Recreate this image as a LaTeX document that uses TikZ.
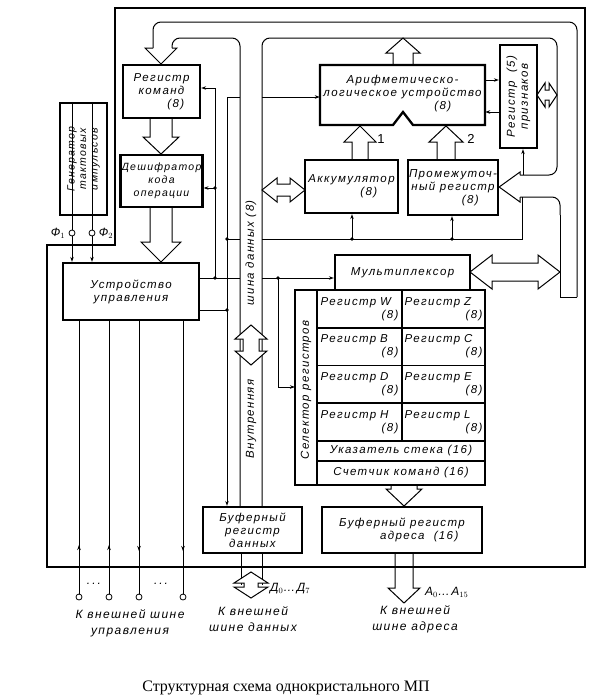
\documentclass[tikz,border=0pt]{standalone}
\usepackage{fontspec}
\setmainfont{Liberation Sans}
\newfontfamily\lab[LetterSpace=12]{Liberation Sans}
\newfontfamily\capf{Liberation Serif}
\usetikzlibrary{positioning,calc,arrows.meta}

\tikzset{
  blk/.style={draw, line width=2.3pt, inner sep=1pt, align=center, font=\lab\itshape\fontsize{11.5}{13}\selectfont},
  txt/.style={inner sep=0pt, align=center, font=\lab\itshape\fontsize{11.5}{13}\selectfont},
  cell/.style={txt, text width=78pt, align=left},
  lbl/.style={inner sep=0pt, align=center, font=\lab\itshape\fontsize{12}{16}\selectfont},
  num/.style={inner sep=0pt, font=\lab\fontsize{13}{13}\selectfont},
  sg/.style={line width=0.8pt},
  sga/.style={line width=0.8pt, -{Stealth[length=5pt,width=3.5pt]}},
  bus/.style={line width=1pt, rounded corners=8pt},
  hol/.style={line width=1pt},
  dbl/.style={line width=1pt, fill=white},
}
% hollow bus arrows: x, from, base, tip, shaft half, head half
\newcommand{\vbus}[6]{\draw[hol] ({#1-#5},#2) -- ({#1-#5},#3) -- ({#1-#6},#3) -- (#1,#4) -- ({#1+#6},#3) -- ({#1+#5},#3) -- ({#1+#5},#2);}
% double headed: pos, tip a, tip b, head length, shaft half, head half
\newcommand{\vdbl}[6]{\draw[dbl] (#1,#2) -- ({#1+#6},{#2+#4}) -- ({#1+#5},{#2+#4}) -- ({#1+#5},{#3-#4}) -- ({#1+#6},{#3-#4}) -- (#1,#3) -- ({#1-#6},{#3-#4}) -- ({#1-#5},{#3-#4}) -- ({#1-#5},{#2+#4}) -- ({#1-#6},{#2+#4}) -- cycle;}
\newcommand{\hdbl}[6]{\draw[dbl] (#2,#1) -- ({#2+#4},{#1-#6}) -- ({#2+#4},{#1-#5}) -- ({#3-#4},{#1-#5}) -- ({#3-#4},{#1-#6}) -- (#3,#1) -- ({#3-#4},{#1+#6}) -- ({#3-#4},{#1+#5}) -- ({#2+#4},{#1+#5}) -- ({#2+#4},{#1+#6}) -- cycle;}

\begin{document}
\begin{tikzpicture}[x=1pt,y=-1pt]
\useasboundingbox (0,0) rectangle (595,699);

% chip frame
\draw[line width=1.1pt] (47,245) -- (115,245) -- (115,8) -- (585,8) -- (585,567) -- (47,567) -- cycle;

% internal data bus
\draw[bus] (153,48) -- (153,22) -- (577,22) -- (577,297);
\draw[line width=1pt] (577,297) -- (560,297) -- (560,215);
\draw[bus] (560,215) -- (560,197) -- (520,197);
\draw[bus] (172,48) -- (172,38) -- (240,38) -- (240,507);
\draw[bus] (262,507) -- (262,38) -- (557,38) -- (557,175) -- (520,175);
\draw[hol] (153,48) -- (145,48) -- (161,64) -- (177,48) -- (172,48);
\vdbl{251}{325}{365}{14}{8}{16}
\node[txt, rotate=90] (bus1) at (251,419) {Внутренняя};
\node[txt, rotate=90] (bus2) at (251,253) {шина данных (8)};

% hollow arrows
\vbus{161}{118}{137}{154}{11}{18}
\vbus{161}{207}{242}{262}{11}{20}
\vbus{403}{65}{53}{38}{10}{17}
\vbus{360}{160}{142}{126}{8}{16}
\vbus{446}{160}{142}{126}{9}{17}
\vbus{404}{485}{489}{506}{13}{18}
\vbus{404}{553}{588}{603}{9}{16}
\node[num] (n1) at (381,139) {1};
\node[num] (n2) at (471,139) {2};

% blocks
\node[blk, rotate=90, minimum width=112, minimum height=47, font=\lab\itshape\fontsize{10.5}{11.5}\selectfont] (gen) at (83.5,159) {Генератор\\тактовых\\импульсов};
\node[blk, minimum width=77, minimum height=53] (rk) at (161.5,91.5) {Регистр\\команд\\\hspace*{2.5em}(8)};
\node[blk, minimum width=77, minimum height=52, font=\lab\itshape\fontsize{10.5}{13}\selectfont] (dsh) at (161.5,181) {Дешифратор\\кода\\операции};
\node[blk, minimum width=136, minimum height=57] (uu) at (131,291.5) {Устройство\\управления};
\draw[line width=2.3pt] (320,65) -- (485,65) -- (485,125) -- (413,125) -- (403,112) -- (393,125) -- (320,125) -- cycle;
\node[txt, minimum width=165, minimum height=60] (alu) at (402.5,94) {Арифметическо-\\логическое устройство\\\hspace*{7em}(8)};
\node[blk, rotate=90, minimum width=103, minimum height=37] (flg) at (518.5,96.5) {Регистр\ \ (5)\\признаков};
\node[blk, minimum width=93, minimum height=53] (acc) at (351.5,186.5) {Аккумулятор\\\hspace*{3em}(8)};
\node[blk, minimum width=90, minimum height=55] (prm) at (453,187.5) {Промежуточ-\\ный регистр\\\hspace*{3em}(8)};
\node[blk, minimum width=135, minimum height=35] (mux) at (402.5,272.5) {Мультиплексор};

% register block
\draw[line width=2.4pt] (295,290) rectangle (485,485);
\draw[line width=1.8pt] (317,290) -- (317,485) (402,290) -- (402,441);
\foreach \y in {327.75,365.5,403.25,441,461} \draw[line width=1.8pt] (317,\y) -- (485,\y);
\foreach \a/\b [count=\i] in {W/Z,B/C,D/E,H/L}{
  \node[cell] (r\a) at (359.5,{290+(\i-0.5)*37.75}) {Регистр \a\\\hspace*{\fill}(8)};
  \node[cell] (r\b) at (443.5,{290+(\i-0.5)*37.75}) {Регистр \b\\\hspace*{\fill}(8)};
}
\node[txt] (sp) at (401,451) {Указатель стека (16)};
\node[txt] (pc) at (401,473) {Счетчик команд (16)};
\node[txt, rotate=90] (sel) at (306,390) {Селектор регистров};

\node[blk, minimum width=99, minimum height=46] (bd) at (252.5,530) {Буферный\\регистр\\данных};
\node[blk, minimum width=160, minimum height=46] (ba) at (402,530) {Буферный регистр\\\hspace*{3em}адреса\ \ (16)};

% bus arrows to registers
\hdbl{190}{262}{305}{15}{6}{12}
\hdbl{272}{470}{560}{22}{9}{17}
\hdbl{95}{537}{557}{8}{5}{12}
\draw[dbl] (520,175) -- (520,172) -- (prm.east |- 0,187) -- (520,202) -- (520,197);

% control signals
\draw[sg] (uu.east |- 0,278) -- (240,278);
\draw[sga] (262,278) -- (mux.west |- 0,278);
\draw[sg] (uu.east |- 0,310) -- (227,310);
\draw[sg] (215,278) -- (215,88);
\draw[sga] (215,88) -- (rk.east |- 0,88);
\draw[sga] (215,188) -- (dsh.east |- 0,188);
\draw[sg] (227,97) -- (240,97);
\draw[sga] (262,97) -- (alu.west |- 0,97);
\draw[sga] (227,97) -- (bd.north -| 227,0);
\draw[sg] (227,239) -- (240,239);
\draw[sg] (262,239) -- (522,239) -- (522,197);
\draw[sga] (352,239) -- (acc.south -| 352,0);
\draw[sga] (452,239) -- (prm.south -| 452,0);
\draw[sg] (278,278) -- (278,387);
\draw[sga] (278,387) -- (295,387);
\draw[sga] (alu.east |- 0,80) -- (flg.north |- 0,80);
\draw[sga] (flg.north |- 0,112) -- (alu.east |- 0,112);
\draw[sga] (523,175) -- (flg.west -| 523,0);
\foreach \p in {(215,188),(215,278),(227,239),(227,310),(278,278),(352,239),(452,239)} \fill \p circle (1.8pt);

% clock
\foreach \x in {72,92}{
  \draw[sg] (gen.east -| \x,0) -- (\x,230);
  \draw[sga] (\x,236) -- (uu.north -| \x,0);
  \draw[sg] (\x,233) circle (3pt);
}
\node[lbl] (f1) at (58,233) {Ф$_1$};
\node[lbl] (f2) at (106,233) {Ф$_2$};

% external pins
\foreach \x in {79,109,139,183}{
  \draw[sg] (uu.south -| \x,0) -- (\x,594);
  \draw[sg, fill=white] (\x,597) circle (3pt);
}
\foreach \x in {79,109} \draw[sga] (\x,556) -- (\x,545);
\foreach \x in {139,183} \draw[sga] (\x,540) -- (\x,551);
\node[lbl] (d1) at (94,584) {.\,.\,.};
\node[lbl] (d2) at (161,584) {.\,.\,.};
\draw[sg] (241,553) -- (241,585);
\draw[sg] (262,553) -- (262,585);
\vdbl{251}{572}{598}{11}{7}{17}

\node[lbl] (ctl) at (130,623) {К внешней шине\\управления};
\node[lbl] (dat) at (253,619) {К внешней\\шине данных};
\node[lbl] (adr) at (415,619) {К внешней\\шине адреса};
\node[lbl, anchor=west] (dlab) at (270,589) {Д$_0$\ldots Д$_7$};
\node[lbl, anchor=west] (alab) at (425,592) {A$_0$\ldots A$_{15}$};

\node[font=\capf\fontsize{16}{18}\selectfont] (cap) at (286,688) {Структурная схема однокристального МП};
\end{tikzpicture}
\end{document}
